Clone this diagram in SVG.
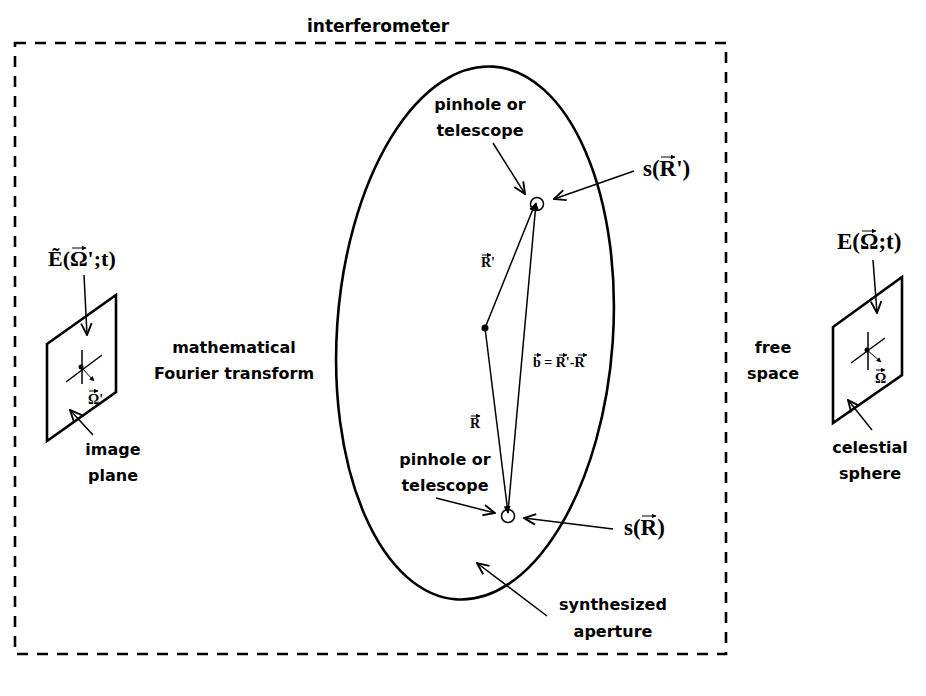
<svg xmlns="http://www.w3.org/2000/svg" width="926" height="696" viewBox="0 0 926 696">
<defs>
<marker id="open" markerUnits="userSpaceOnUse" markerWidth="14" markerHeight="14" viewBox="0 0 12 12" refX="11" refY="6" orient="auto">
<path d="M1,1.5 L11,6 L1,10.5" fill="none" stroke="#000" stroke-width="1.6"/>
</marker>
<marker id="solid" markerUnits="userSpaceOnUse" markerWidth="8" markerHeight="8" viewBox="0 0 8 8" refX="7" refY="4" orient="auto">
<path d="M0,0.5 L8,4 L0,7.5 Z" fill="#000"/>
</marker>
<marker id="vec" markerUnits="userSpaceOnUse" markerWidth="5" markerHeight="5" viewBox="0 0 5 5" refX="4.5" refY="2.5" orient="auto">
<path d="M0,0 L5,2.5 L0,5 Z" fill="#000"/>
</marker>
<style>
.lbl{font-family:"DejaVu Sans",sans-serif;font-weight:bold;font-size:16px;fill:#000}
.math{font-family:"Liberation Serif","Times New Roman",serif;font-weight:bold;fill:#000}
.ann{stroke:#000;stroke-width:1.5;fill:none;marker-end:url(#open)}
.thick{stroke:#000;stroke-width:2.6;fill:none}
.thin{stroke:#000;stroke-width:1.5;fill:none}
.v{stroke:#000;stroke-width:1;fill:none;marker-end:url(#vec)}
</style>
</defs>
<rect width="926" height="696" fill="#fff"/>

<g id="interferometer">
<rect x="15" y="43" width="711" height="611" fill="none" stroke="#000" stroke-width="2.6" stroke-dasharray="11 9"/>
<text class="lbl" x="307" y="32" style="font-size:17px">interferometer</text>
</g>

<g id="aperture">
<ellipse cx="475" cy="333" rx="138" ry="267" transform="rotate(4 475 333)" class="thick"/>
<text class="lbl" x="613" y="610" text-anchor="middle">synthesized</text>
<text class="lbl" x="613" y="637" text-anchor="middle">aperture</text>
</g>

<g id="telescope-top">
<circle cx="537" cy="204" r="6.5" class="thin" stroke-width="2"/>
<text class="lbl" x="480" y="110" text-anchor="middle">pinhole or</text>
<text class="lbl" x="480" y="136" text-anchor="middle">telescope</text>
<text class="math" x="643" y="176" style="font-size:23px">s(R')</text>
<line x1="661" y1="157" x2="675" y2="157" class="v"/>
</g>

<g id="telescope-bottom">
<circle cx="508" cy="516" r="6.5" class="thin" stroke-width="2"/>
<text class="lbl" x="445" y="465" text-anchor="middle">pinhole or</text>
<text class="lbl" x="445" y="491" text-anchor="middle">telescope</text>
<text class="math" x="624" y="535" style="font-size:23px">s(R)</text>
<line x1="642" y1="516" x2="656" y2="516" class="v"/>
</g>

<g id="origin">
<circle cx="485" cy="328" r="3.5" fill="#000"/>
</g>

<g id="image-plane">
<path d="M47,344 L116,295 L116,392 L47,441 Z" class="thick" stroke-linejoin="miter"/>
<line x1="82" y1="350" x2="82" y2="384" class="thin"/>
<line x1="66" y1="382" x2="102" y2="355" class="thin"/>
<circle cx="81" cy="367" r="2.5" fill="#000"/>
<line x1="81" y1="367" x2="94" y2="381" class="v" stroke-width="1.5"/>
<text class="math" x="88" y="404" style="font-size:14px">Ω'</text>
<line x1="89" y1="391" x2="98" y2="391" class="v"/>
<text class="math" x="48" y="266" style="font-size:22px">Ẽ(Ω';t)</text>
<line x1="72" y1="248" x2="86" y2="248" class="v"/>
<text class="lbl" x="113" y="455" text-anchor="middle">image</text>
<text class="lbl" x="113" y="481" text-anchor="middle">plane</text>
</g>

<g id="fourier">
<text class="lbl" x="234" y="353" text-anchor="middle">mathematical</text>
<text class="lbl" x="234" y="379" text-anchor="middle">Fourier transform</text>
</g>

<g id="free-space">
<text class="lbl" x="773" y="353" text-anchor="middle">free</text>
<text class="lbl" x="773" y="379" text-anchor="middle">space</text>
</g>

<g id="celestial-sphere">
<path d="M833,327 L902,277 L902,375 L833,423 Z" class="thick"/>
<line x1="868" y1="332" x2="868" y2="370" class="thin"/>
<line x1="851" y1="363" x2="885" y2="338" class="thin"/>
<circle cx="867" cy="350" r="2.5" fill="#000"/>
<line x1="867" y1="350" x2="881" y2="362" class="v" stroke-width="1.5"/>
<text class="math" x="875" y="383" style="font-size:14px">Ω</text>
<line x1="876" y1="370" x2="885" y2="370" class="v"/>
<text class="math" x="837" y="249" style="font-size:23px">E(Ω;t)</text>
<line x1="862" y1="231" x2="876" y2="231" class="v"/>
<text class="lbl" x="870" y="453" text-anchor="middle">celestial</text>
<text class="lbl" x="870" y="479" text-anchor="middle">sphere</text>
</g>

<g id="vectors">
<text class="math" x="481" y="267" style="font-size:14px">R'</text>
<line x1="482" y1="255" x2="491" y2="255" class="v"/>
<text class="math" x="470" y="428" style="font-size:14px">R</text>
<line x1="471" y1="416" x2="480" y2="416" class="v"/>
<text class="math" x="533" y="367" style="font-size:14px">b = R'-R</text>
<line x1="534" y1="355" x2="541" y2="355" class="v"/>
<line x1="559" y1="355" x2="567" y2="355" class="v"/>
<line x1="578" y1="355" x2="587" y2="355" class="v"/>
</g>

<g id="connectors">
<line x1="485" y1="328" x2="535" y2="204" class="thin" marker-end="url(#solid)"/>
<line x1="508" y1="512" x2="536" y2="203" class="thin" marker-end="url(#solid)"/>
<line x1="485" y1="328" x2="508" y2="513" class="thin" marker-end="url(#solid)"/>
<line x1="493" y1="143" x2="525" y2="194" class="ann"/>
<line x1="634" y1="171" x2="554" y2="199" class="ann"/>
<line x1="436" y1="498" x2="495" y2="513" class="ann"/>
<line x1="613" y1="529" x2="524" y2="518" class="ann"/>
<line x1="547" y1="616" x2="477" y2="563" class="ann"/>
<line x1="84" y1="275" x2="87" y2="335" class="ann"/>
<line x1="93" y1="435" x2="70" y2="410" class="ann"/>
<line x1="873" y1="260" x2="877" y2="313" class="ann"/>
<line x1="872" y1="430" x2="848" y2="400" class="ann"/>
</g>
</svg>
